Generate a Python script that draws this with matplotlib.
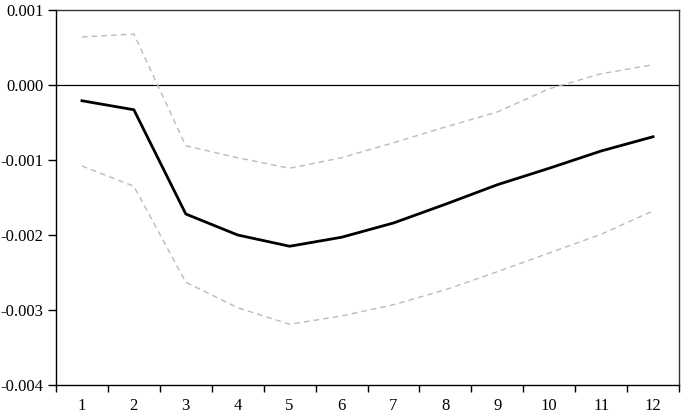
import matplotlib.pyplot as plt
import numpy as np

periods = [1, 2, 3, 4, 5, 6, 7, 8, 9, 10, 11, 12]
response = [-0.00021, -0.00033, -0.00172, -0.00200, -0.00215, -0.00203,
            -0.00184, -0.00159, -0.00133, -0.00111, -0.00088, -0.00069]
upper = [0.00064, 0.00068, -0.00081, -0.00097, -0.00111, -0.00097,
         -0.00077, -0.00056, -0.00036, -0.00005, 0.00015, 0.00027]
lower = [-0.00108, -0.00135, -0.00263, -0.00297, -0.00319, -0.00308,
         -0.00293, -0.00273, -0.00249, -0.00224, -0.00199, -0.00168]
y_ticks = [-0.004, -0.003, -0.002, -0.001, 0.000, 0.001]

plt.rcParams['font.family'] = ['Liberation Serif', 'DejaVu Serif']

fig = plt.figure(figsize=(6.85, 4.17), dpi=100)
ax = fig.add_axes([56 / 685, 1 - 385 / 417, 623 / 685, 375 / 417])

ax.axhline(0, color='black', lw=0.9)
ax.plot(periods, upper, color='#bbbbbb', lw=1.0, dashes=(4, 3))
ax.plot(periods, lower, color='#bbbbbb', lw=1.0, dashes=(4, 3))
ax.plot(periods, response, color='black', lw=2.0)

ax.set_xlim(0.5, 12.5)
ax.set_ylim(-0.004, 0.001)
ax.set_yticks(y_ticks)
ax.set_yticklabels([f'{v:.3f}' for v in y_ticks])
# ticks sit between periods, labels at the centres
ax.set_xticks(np.arange(0.5, 13, 1))
ax.set_xticklabels([])
ax.set_xticks(periods, minor=True)
ax.set_xticklabels([str(p) for p in periods], minor=True)
ax.tick_params(axis='both', which='both', labelsize=12)
ax.tick_params(axis='x', which='minor', length=0, pad=9)
ax.tick_params(axis='x', which='major', length=5, width=1, direction='out')
ax.tick_params(axis='y', length=6, width=1, direction='out', pad=3)

for s in ax.spines.values():
    s.set_color('#333333')
    s.set_linewidth(1.0)
ax.spines['left'].set_color('black')
ax.spines['bottom'].set_color('black')

fig.savefig('out.png', dpi=100)
